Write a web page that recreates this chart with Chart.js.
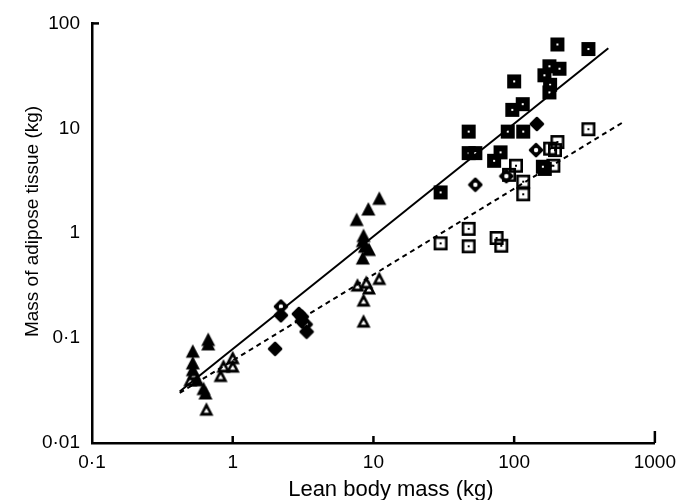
<!DOCTYPE html>
<html><head><meta charset="utf-8">
<script src="https://cdn.jsdelivr.net/npm/chart.js@4.4.1/dist/chart.umd.min.js"></script>
<style>html,body{margin:0;padding:0;background:#fff}#wrap{width:684px;height:500px}</style>
</head><body><div id="wrap"><canvas id="c"></canvas></div>
<script>
// ---- data (lean body mass kg, adipose tissue kg) ----
const filledTriangles = [[0.52,0.075],[0.52,0.058],[0.52,0.050],[0.67,0.097],[0.67,0.088],[0.62,0.033],[0.64,0.030],[0.56,0.040],
  [7.6,1.35],[9.2,1.7],[11,2.15],[8.4,0.85],[8.7,0.75],[9.3,0.7],[8.4,0.58],[8.5,0.95]];
const openTriangles = [[0.50,0.040],[0.53,0.046],[0.65,0.021],[0.82,0.044],[0.86,0.054],[1.0,0.065],[1.0,0.054],
  [7.7,0.32],[9.3,0.30],[11,0.37],[8.5,0.23],[8.5,0.145],[8.9,0.34]];
const filledDiamonds = [[2.0,0.079],[2.2,0.165],[2.95,0.17],[3.1,0.16],[3.1,0.145],[3.35,0.115],[145,11]];
const openDiamonds = [[2.2,0.2],[3.3,0.135],[53,2.9],[143,6.2],[88,3.5]];
const filledSquares = [[30,2.45],[47.5,9.3],[47.5,5.8],[53,5.8],[72,4.9],[80,5.9],[90,9.3],[97,15],[115,17],[116,9.3],
  [100,28],[164,32],[178,39],[203,63],[210,37],[180,26],[178,22],[337,57],[165,4.1],[160,4.3]];
const openSquares = [[30,0.8],[47.5,1.1],[47.5,0.75],[75,0.9],[81,0.76],[103,4.4],[92,3.6],[116,3.1],[116,2.35],
  [337,9.8],[203,7.4],[195,6.2],[180,6.4],[190,4.4]];
const solidFit = [[0.42,0.031],[467,58]];
const dashedFit = [[0.42,0.030],[605,11.6]];
const xTicks = [0.1,1,10,100,1000];
const yTicks = [0.01,0.1,1,10,100];
const xTitle = 'Lean body mass (kg)';
const yTitle = 'Mass of adipose tissue (kg)';

// ---- marker images ----
function marker(kind){
  const s=16, c=document.createElement('canvas'); c.width=s; c.height=s;
  const g=c.getContext('2d'); g.fillStyle='#000'; g.strokeStyle='#000';
  if(kind==='sqF'){ g.fillRect(1,1,14,14); g.fillStyle='#fff'; g.fillRect(7,7,2,2); }
  if(kind==='sqO'){ g.lineWidth=2.6; g.strokeRect(2.3,2.3,11.4,11.4); g.fillRect(7,7,2,2); }
  if(kind==='triF'){ g.beginPath(); g.moveTo(8,1); g.lineTo(15,14.5); g.lineTo(1,14.5); g.closePath(); g.fill(); }
  if(kind==='triO'){ g.beginPath(); g.moveTo(8,1); g.lineTo(15,14.5); g.lineTo(1,14.5); g.closePath(); g.fill();
    g.fillStyle='#fff'; g.beginPath(); g.moveTo(8,7); g.lineTo(10.6,11.6); g.lineTo(5.4,11.6); g.closePath(); g.fill(); }
  if(kind==='diaF'||kind==='diaO'){ g.lineJoin='round'; g.lineWidth=2.5; g.beginPath(); g.moveTo(8,2); g.lineTo(14,8); g.lineTo(8,14); g.lineTo(2,8); g.closePath(); g.fill(); g.stroke();
    if(kind==='diaO'){ g.fillStyle='#fff'; g.beginPath(); g.arc(8,8,2.2,0,Math.PI*2); g.fill(); } }
  return c;
}
const pts = a => a.map(p=>({x:p[0],y:p[1]}));
function scat(data,kind){ return {type:'scatter',data:pts(data),pointStyle:marker(kind),pointRadius:8,pointHoverRadius:8,borderColor:'#000',backgroundColor:'#000'}; }

const FAM = "'Liberation Sans', Arial, sans-serif";
const tickPlugin = {
  id:'ticks',
  afterDraw(chart){
    const g=chart.ctx, x=chart.scales.x, y=chart.scales.y;
    g.save(); g.strokeStyle='#000'; g.lineWidth=2.5;
    xTicks.forEach(v=>{ if(v===xTicks[0]) return; const px=x.getPixelForValue(v); const len = v===xTicks[xTicks.length-1]?12:7;
      g.beginPath(); g.moveTo(px,y.bottom); g.lineTo(px,y.bottom-len); g.stroke(); });
    const py=y.getPixelForValue(yTicks[yTicks.length-1]);
    g.beginPath(); g.moveTo(x.left,py); g.lineTo(x.left+7,py); g.stroke();
    // axis titles, placed as in the original figure
    g.fillStyle='#000'; g.textAlign='center'; g.textBaseline='middle';
    g.font='22px '+FAM;
    g.fillText(xTitle, x.left + (x.right-x.left)*0.531, y.bottom + 47);
    g.font='19px '+FAM;
    g.translate(33, y.top + (y.bottom-y.top)*0.472); g.rotate(-Math.PI/2);
    g.fillText(yTitle, 0, 0);
    g.restore();
  }
};

const font = {family:FAM, size:19};
const fmt = v => String(v).replace('.', '·');

new Chart(document.getElementById('c'), {
  data:{ datasets:[
    {type:'line',data:pts(solidFit),borderColor:'#000',borderWidth:2,pointRadius:0,fill:false},
    {type:'line',data:pts(dashedFit),borderColor:'#000',borderWidth:2,borderDash:[5,4],pointRadius:0,fill:false},
    scat(filledTriangles,'triF'), scat(openTriangles,'triO'),
    scat(filledDiamonds,'diaF'), scat(openDiamonds,'diaO'),
    scat(filledSquares,'sqF'), scat(openSquares,'sqO')
  ]},
  options:{
    responsive:true, maintainAspectRatio:false, animation:false,
    layout:{padding:{top:21,right:19,left:0,bottom:0}},
    plugins:{legend:{display:false},tooltip:{enabled:false}},
    scales:{
      x:{type:'logarithmic',min:0.1,max:1000,
        afterBuildTicks:s=>{s.ticks=xTicks.map(v=>({value:v}));},
        afterFit:s=>{s.height=57;},
        grid:{display:false,drawTicks:false},
        border:{color:'#000',width:2.5},
        ticks:{color:'#000',font:font,padding:8,autoSkip:false,maxRotation:0,callback:v=>fmt(v)},
        title:{display:false}
      },
      y:{type:'logarithmic',min:0.01,max:100,
        afterBuildTicks:s=>{s.ticks=yTicks.map(v=>({value:v}));},
        afterFit:s=>{s.width=92;},
        grid:{display:false,drawTicks:false},
        border:{color:'#000',width:2.5},
        ticks:{color:'#000',font:font,padding:12,autoSkip:false,callback:v=>fmt(v)},
        title:{display:false}
      }
    }
  },
  plugins:[tickPlugin]
});
</script></body></html>
